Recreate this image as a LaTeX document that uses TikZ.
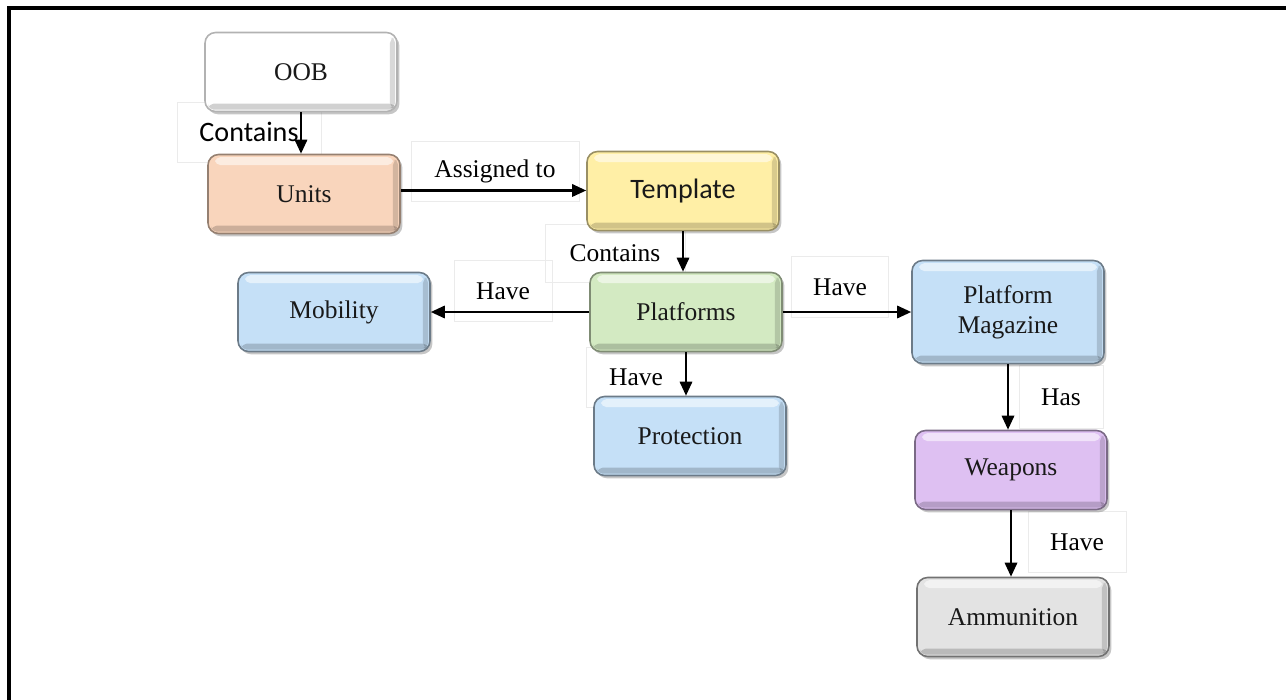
\documentclass[tikz,border=0pt]{standalone}
\usepackage{fontspec}
\setmainfont{Liberation Serif}
\newfontfamily\calibri{Carlito}
\usetikzlibrary{arrows.meta,shadows}

\definecolor{oobfill}{HTML}{FFFFFF}
\definecolor{unitfill}{HTML}{F9D5BC}
\definecolor{tempfill}{HTML}{FFEFA6}
\definecolor{platfill}{HTML}{D3EAC2}
\definecolor{bluefill}{HTML}{C5E0F7}
\definecolor{weapfill}{HTML}{DEC0F2}
\definecolor{ammofill}{HTML}{E3E3E3}

\tikzstyle{block} = [draw=black!45, line width=0.9pt, rounded corners=6pt,
  minimum width=3.84cm, minimum height=1.58cm, align=center,
  font=\fontsize{14.5}{17}\selectfont, text=black!90,
  drop shadow={shadow xshift=1.4pt, shadow yshift=-1.6pt, opacity=0.45},
  path picture={
    \fill[white, opacity=0.55, rounded corners=3pt]
      ([xshift=4pt,yshift=-1.5pt]path picture bounding box.north west) rectangle
      ([xshift=-4pt,yshift=-6pt]path picture bounding box.north east);
    \fill[black, opacity=0.18, rounded corners=3pt]
      ([xshift=2pt,yshift=1pt]path picture bounding box.south west) rectangle
      ([xshift=-1pt,yshift=4.5pt]path picture bounding box.south east);
    \fill[black, opacity=0.15, rounded corners=3pt]
      ([xshift=-4pt,yshift=2pt]path picture bounding box.south east) rectangle
      ([xshift=-1pt,yshift=-3pt]path picture bounding box.north east);
  }]
\tikzstyle{tag} = [draw=black!8, line width=0.4pt, inner sep=0pt,
  font=\fontsize{14.5}{17}\selectfont]
\tikzstyle{link} = [-{Triangle[length=8pt,width=7pt]}, line width=1.35pt]

\begin{document}
\begin{tikzpicture}[x=0.02cm,y=-0.02cm]
\useasboundingbox (0,0) rectangle (1286,700);

% frame
\draw[line width=2.3pt] (9,700) -- (9,8) -- (1286,8);

% label boxes
\node[tag, minimum width=2.88cm, minimum height=1.2cm,
  font=\calibri\fontsize{16}{19}\selectfont] (lcont1) at (249,132) {Contains};
\node[tag, minimum width=3.36cm, minimum height=1.2cm] (lassign) at (495,171) {Assigned to};
\node[tag, minimum width=2.8cm, minimum height=1.16cm] (lcont2) at (615,253) {Contains};
\node[tag, minimum width=1.96cm, minimum height=1.22cm] (lhave1) at (503,291) {Have};
\node[tag, minimum width=1.94cm, minimum height=1.22cm] (lhave2) at (840,287) {Have};
\node[tag, minimum width=1.98cm, minimum height=1.2cm] (lhave3) at (636,377) {Have};
\node[tag, minimum width=1.68cm, minimum height=1.26cm] (lhas) at (1061,397) {Has};
\node[tag, minimum width=1.96cm, minimum height=1.22cm] (lhave4) at (1077,542) {Have};

% blocks
\node[block, fill=oobfill, draw=black!30] (oob) at (301,72) {OOB};
\node[block, fill=unitfill, draw=unitfill!60!black] (units) at (304,194) {Units};
\node[block, fill=tempfill, draw=tempfill!60!black,
  font=\calibri\fontsize{16}{19}\selectfont] (template) at (683,191) {Template};
\node[block, fill=platfill, draw=platfill!60!black] (platforms) at (686,312) {Platforms};
\node[block, fill=bluefill, draw=bluefill!55!black] (mobility) at (334,312) {Mobility};
\node[block, fill=bluefill, draw=bluefill!55!black] (protection) at (690,436) {Protection};
\node[block, fill=bluefill, draw=bluefill!55!black, minimum height=2.06cm]
  (magazine) at (1008,312) {Platform\\Magazine};
\node[block, fill=weapfill, draw=weapfill!55!black] (weapons) at (1011,470) {Weapons};
\node[block, fill=ammofill, draw=ammofill!50!black] (ammo) at (1013,617) {Ammunition};

% connectors
\draw[link] (oob.south) -- (oob.south |- units.north);
\draw[link] ([yshift=2pt]units.east) -- ([yshift=2pt]units.east -| template.west);
\draw[link] (template.south) -- (template.south |- platforms.north);
\draw[link] (platforms.west) -- (mobility.east);
\draw[link] (platforms.east) -- (magazine.west);
\draw[link] (platforms.south) -- (platforms.south |- protection.north);
\draw[link] (magazine.south) -- (magazine.south |- weapons.north);
\draw[link] (weapons.south) -- (weapons.south |- ammo.north);

\end{tikzpicture}
\end{document}
